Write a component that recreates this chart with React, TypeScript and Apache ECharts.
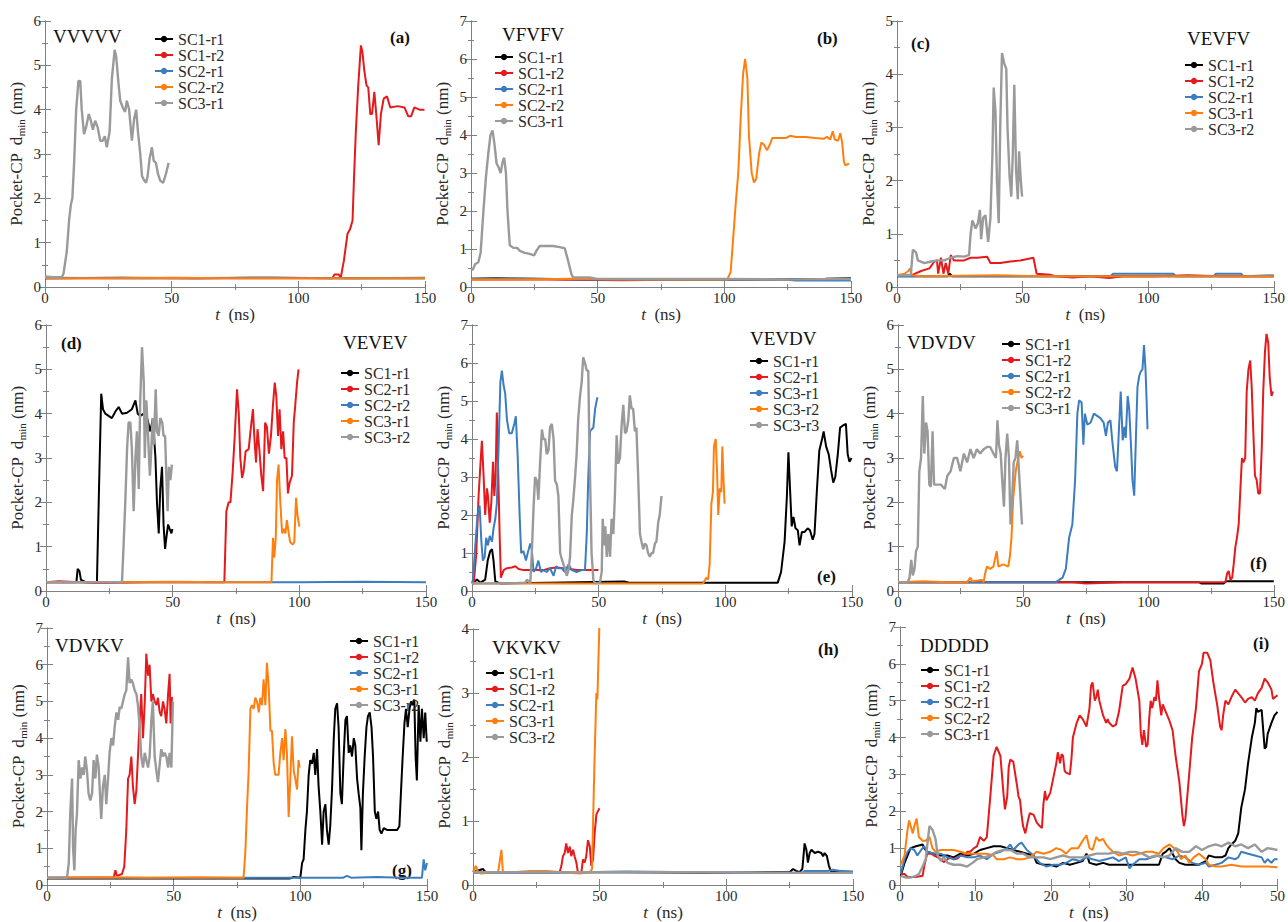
import React, { useEffect, useRef } from "react";
import * as echarts from "echarts";

type P = [number, number][];

// ---------- (a) VVVVV ----------
const a_SC1_r1: P = [[0,0.2],[30,0.21],[60,0.2],[90,0.21],[120,0.2],[150,0.2]];
const a_SC1_r2: P = [[0,0.2],[50,0.2],[100,0.2],[113.5,0.2],[114.2,0.28],[116,0.28],[116.7,0.2],[118,0.6],[119.4,1.2],[120.4,1.3],[121.4,1.5],[122,2.5],[122.7,3.5],[123.6,4.5],[124.7,5.45],[125.3,5.3],[126,4.9],[126.9,4.55],[127.6,4.5],[128.4,3.9],[129.1,3.9],[130,4.4],[130.9,3.8],[131.7,3.2],[132.6,3.9],[133.7,4.25],[135,4.3],[136.3,4.05],[139.2,4.08],[141.9,4.05],[143.4,3.85],[144.5,3.85],[145.8,4.05],[147.8,4.0],[149.8,4.0]];
const a_SC2_r1: P = [[0,0.21],[40,0.2],[80,0.21],[120,0.2],[150,0.21]];
const a_SC2_r2: P = [[0,0.2],[25,0.2],[50,0.21],[75,0.2],[100,0.2],[125,0.2],[150,0.2]];
const a_SC3_r1: P = [[0,0.24],[3,0.22],[6.6,0.22],[7.3,0.3],[8.6,0.8],[9.5,1.5],[10.2,1.85],[10.8,2.0],[11.5,2.8],[12.3,4.0],[13.2,4.65],[13.9,4.65],[14.5,4.0],[15.4,3.45],[16.2,3.6],[17.3,3.9],[18.1,3.75],[18.9,3.55],[19.8,3.75],[20.8,3.6],[21.8,3.3],[22.8,3.3],[23.6,3.4],[24.4,3.15],[25.5,3.5],[26.4,4.7],[27.5,5.35],[28.1,5.2],[29.0,4.6],[29.7,4.2],[30.7,4.05],[31.6,3.95],[32.3,4.2],[33.2,4.0],[34.3,3.3],[35.2,3.8],[36.0,4.0],[36.7,3.5],[37.6,3.0],[38.3,2.5],[39.2,2.4],[39.9,2.35],[40.5,2.5],[41.3,2.9],[42.2,3.15],[42.9,2.85],[43.8,2.8],[44.6,2.55],[45.5,2.4],[46.6,2.35],[47.5,2.5],[48.8,2.8]];

// ---------- (b) VFVFV ----------
const b_SC1_r1: P = [[0,0.22],[10,0.23],[25,0.22],[50,0.2],[80,0.2],[110,0.2],[140,0.22],[150,0.23]];
const b_SC1_r2: P = [[0,0.2],[30,0.2],[60,0.18],[90,0.2],[120,0.2],[150,0.2]];
const b_SC2_r1: P = [[0,0.22],[20,0.22],[50,0.2],[100,0.2],[125,0.2],[128,0.17],[150,0.17]];
const b_SC2_r2: P = [[0,0.2],[20,0.2],[40,0.22],[60,0.2],[80,0.2],[101.2,0.2],[102.5,0.4],[103.4,1.2],[104.5,2.2],[105.5,3.0],[106.5,4.5],[107.4,5.6],[108.2,6.0],[109.1,5.5],[109.7,4.0],[110.8,3.0],[111.7,2.75],[112.6,2.85],[113.7,3.5],[114.6,3.8],[115.6,3.75],[116.9,3.6],[118.3,3.8],[118.9,3.92],[121.5,3.92],[124.2,3.92],[126.1,3.98],[128.1,3.95],[132,3.95],[135.9,3.92],[139.2,3.9],[140.5,3.95],[141.8,3.88],[142.8,4.1],[143.6,3.88],[144.9,3.85],[145.8,4.05],[146.5,3.8],[147.2,3.3],[147.8,3.2],[149.2,3.25]];
const b_SC3_r1: P = [[0,0.47],[0.7,0.45],[1.6,0.6],[2.9,0.65],[3.8,0.9],[4.9,2.0],[5.9,2.9],[6.8,3.5],[7.7,4.0],[8.5,4.12],[9.2,3.8],[10.1,3.25],[10.9,3.15],[11.7,3.0],[12.5,3.3],[13.1,3.4],[13.8,3.0],[14.4,2.0],[15.3,1.1],[16.7,1.03],[18.2,1.03],[19.3,0.95],[21.2,0.9],[23.2,0.87],[24.9,0.83],[25.8,0.95],[27.1,1.08],[29.8,1.08],[32.4,1.08],[35,1.05],[37,1.02],[38.3,0.7],[39.6,0.35],[40.3,0.25],[42.9,0.25],[46.8,0.25],[49.4,0.22],[70,0.21],[100,0.21],[125,0.2],[150,0.21]];

// ---------- (c) VEVFV ----------
const c_SC1_r1: P = [[0,0.2],[20,0.2],[21,0.25],[22,0.2],[50,0.2],[100,0.2],[150,0.2]];
const c_SC1_r2: P = [[0,0.22],[5.7,0.22],[9.6,0.3],[12.9,0.35],[14.9,0.48],[15.9,0.5],[16.4,0.25],[17.5,0.55],[18.5,0.25],[19.4,0.45],[20.4,0.25],[21.4,0.6],[22.7,0.5],[24.1,0.5],[26.7,0.5],[29.3,0.55],[31.9,0.55],[35.9,0.57],[37.2,0.45],[41.1,0.45],[45.1,0.48],[49.1,0.5],[54.3,0.55],[55.6,0.25],[60.9,0.23],[63.5,0.2],[70,0.18],[76.6,0.2],[84.5,0.17],[89.8,0.2],[103,0.2],[116,0.22],[129,0.2],[150,0.2]];
const c_SC2_r1: P = [[0,0.2],[50,0.2],[85,0.2],[86,0.25],[110,0.25],[111,0.2],[126,0.2],[127,0.25],[137,0.25],[138,0.2],[150,0.22]];
const c_SC3_r1: P = [[0,0.22],[3,0.25],[4.5,0.3],[5.2,0.35],[5.8,0.22],[10,0.2],[40,0.22],[60,0.2],[100,0.2],[150,0.2]];
const c_SC3_r2: P = [[0,0.22],[5.5,0.22],[6.3,0.7],[7.6,0.65],[8.3,0.5],[10.9,0.45],[13.5,0.48],[16.2,0.5],[18.8,0.5],[21.4,0.55],[24,0.58],[26.7,0.57],[28.7,0.6],[29.3,1.0],[30,1.25],[31.3,1.1],[32.2,1.2],[33,1.45],[33.5,0.9],[34.3,1.3],[35.2,1.35],[36.3,0.85],[37.2,1.3],[38,2.5],[38.5,3.75],[39.2,3.3],[39.8,2.0],[40.5,1.2],[41.1,3.0],[41.8,4.4],[42.7,4.2],[43.5,4.1],[44,3.0],[44.8,2.1],[45.5,1.7],[46.1,2.5],[46.7,3.8],[47.4,2.2],[48.1,1.65],[48.6,2.55],[49.3,2.0],[49.8,1.7]];

// ---------- (d) VEVEV ----------
const d_SC1_r1: P = [[0,0.2],[12,0.2],[12.5,0.5],[13.2,0.45],[13.8,0.25],[15.8,0.2],[20.1,0.2],[21,2.5],[21.8,4.45],[22.5,4.1],[23.4,4.0],[24.7,3.95],[26,3.9],[27.4,4.05],[28.7,4.15],[30,4.0],[32,4.02],[33.9,4.1],[35.3,4.3],[36.2,4.0],[37.2,3.95],[38.6,4.0],[39.9,3.9],[41.2,3.6],[42.2,3.9],[43.2,3.0],[43.8,2.0],[44.5,1.3],[45.1,2.3],[45.8,2.8],[46.4,1.5],[47,0.95],[47.5,1.2],[48.2,1.5],[48.8,1.4],[49.5,1.3],[49.9,1.4]];
const d_SC2_r1: P = [[0,0.2],[5,0.22],[20,0.18],[40,0.2],[70.4,0.2],[71.2,1.8],[72.1,2.0],[72.8,2.0],[73.7,2.7],[74.5,3.5],[75.4,4.55],[76.1,4.0],[76.7,3.0],[77.4,2.55],[78,2.7],[78.8,3.15],[80,3.2],[80.9,3.7],[81.7,4.1],[82.2,3.5],[82.9,2.9],[83.5,3.65],[84.2,3.2],[85,2.6],[85.7,2.25],[86.5,3.8],[87.2,3.7],[88,3.1],[88.8,3.5],[89.6,4.2],[90.3,4.7],[90.9,4.4],[91.6,3.5],[92.2,4.1],[92.9,3.2],[93.6,3.6],[94.2,3.0],[94.9,3.0],[95.5,2.2],[96.2,2.45],[97.1,2.6],[97.8,3.8],[98.4,4.2],[99.1,4.7],[99.7,5.0]];
const d_SC2_r2: P = [[0,0.2],[50,0.2],[100,0.2],[125,0.21],[150,0.2]];
const d_SC3_r1: P = [[0,0.2],[30,0.2],[50,0.21],[70,0.2],[89,0.2],[89.6,1.2],[90.1,0.75],[90.7,1.2],[91.2,2.5],[91.8,2.85],[92.5,2.0],[93.2,1.3],[93.8,1.4],[94.5,1.3],[95.1,1.6],[95.8,1.3],[96.4,1.1],[97.4,1.05],[98,1.1],[98.7,2.1],[99.3,1.7],[100,1.45]];
const d_SC3_r2: P = [[0,0.2],[15,0.2],[30,0.2],[30.6,1.0],[31.3,2.0],[32,3.2],[32.6,3.8],[33.3,3.8],[33.9,3.2],[34.6,1.8],[35.3,3.0],[35.9,3.6],[36.6,2.3],[37.2,4.3],[37.9,5.5],[38.6,4.7],[39,3.0],[39.6,4.3],[40.3,3.5],[41,2.6],[41.4,3.0],[42.1,3.9],[42.6,3.3],[43.3,4.55],[43.8,3.6],[44.5,3.5],[45.1,3.9],[45.9,3.8],[46.4,3.5],[47,3.5],[47.5,2.6],[48,1.8],[48.5,2.8],[49.1,2.5],[49.7,2.85]];

// ---------- (e) VEVDV ----------
const e_SC1_r1: P = [[0,0.2],[2,0.3],[3.3,0.22],[5.2,0.3],[6.2,0.8],[7.2,1.05],[7.9,1.1],[8.5,0.8],[9.2,0.25],[11.2,0.2],[30,0.22],[60,0.25],[62,0.22],[90,0.22],[120.7,0.22],[122,0.5],[123.4,1.3],[124.3,2.5],[124.9,3.65],[125.6,2.6],[126.2,1.7],[126.9,1.95],[127.7,1.65],[128.6,1.6],[129.3,1.2],[130.2,1.55],[131.2,1.55],[132.5,1.65],[133.4,1.6],[134.5,1.35],[135.2,1.5],[136.1,2.6],[137.1,3.7],[138.2,4.0],[138.8,4.2],[139.8,3.8],[140.8,3.6],[141.7,3.2],[142.6,2.85],[143.4,3.0],[144.4,3.6],[145.3,4.3],[146.3,4.35],[147.6,4.4],[148.3,3.6],[149,3.4],[149.8,3.5]];
const e_SC2_r1: P = [[0,0.2],[0.7,0.2],[1.7,1.0],[2.6,2.5],[3.3,3.3],[3.9,3.95],[4.6,3.0],[5.2,2.0],[5.9,2.7],[6.3,2.5],[7,1.8],[7.6,2.3],[8.3,3.4],[8.8,2.5],[9.3,3.0],[9.8,4.7],[10.4,3.0],[10.9,1.5],[11.4,0.35],[12.5,0.55],[13.8,0.6],[15.7,0.62],[17.1,0.65],[18.4,0.58],[20.3,0.55],[23,0.55],[25.6,0.55],[28.2,0.55],[30.8,0.6],[33.5,0.62],[36.1,0.6],[38.7,0.58],[41.3,0.55],[44,0.55],[46.6,0.55],[49.9,0.55]];
const e_SC3_r1: P = [[0,0.2],[0.4,0.3],[1.3,1.2],[2.2,2.0],[3,2.25],[3.7,1.3],[4.3,0.8],[5,0.9],[5.6,1.4],[6.3,1.2],[7,1.45],[7.9,1.3],[8.5,1.65],[9.2,1.9],[9.8,2.3],[10.5,3.8],[11.2,5.5],[11.8,5.8],[12.5,5.4],[13.1,5.2],[13.8,4.5],[14.7,4.15],[15.7,4.15],[16.7,4.4],[17.3,4.6],[18,3.6],[18.8,2.0],[19.4,1.0],[20.3,1.05],[21.3,0.8],[22,1.0],[23,1.25],[23.6,1.1],[24.3,0.5],[25.3,0.6],[26.2,0.8],[27.2,0.5],[28.2,0.55],[29.5,0.5],[30.8,0.6],[32.2,0.4],[33.2,0.65],[34.1,0.6],[35.4,0.6],[36.7,0.5],[38.1,0.7],[39.4,0.55],[41.3,0.5],[43.3,0.55],[44.6,0.55],[45.3,1.5],[45.9,3.0],[46.6,4.2],[47.2,4.25],[47.9,4.3],[48.6,4.8],[49.5,5.1]];
const e_SC3_r2: P = [[0,0.2],[20,0.2],[40,0.2],[60,0.2],[80,0.2],[91.2,0.2],[92.5,0.35],[93.2,0.3],[93.8,0.7],[94.5,2.3],[95.1,2.6],[95.5,3.8],[96.2,4.0],[96.7,3.2],[97.2,2.0],[97.8,2.7],[98.4,2.6],[98.8,3.8],[99.3,2.9],[99.7,2.3]];
const e_SC3_r3: P = [[0,0.2],[15,0.2],[21,0.22],[21.7,0.3],[23,0.2],[23.6,1.0],[24.3,2.2],[24.9,3.0],[25.6,2.9],[26.2,2.4],[26.9,3.4],[27.6,4.25],[28.2,4.0],[28.9,4.0],[29.5,3.6],[30.2,3.7],[30.8,4.3],[31.5,4.4],[32.2,4.0],[32.8,2.9],[33.5,2.8],[34.1,2.5],[34.8,1.0],[35.4,0.85],[36.1,0.7],[36.7,0.6],[37.4,0.4],[38.1,0.55],[38.7,0.9],[39.4,2.0],[40,2.4],[40.7,3.0],[41.3,3.6],[41.9,4.5],[42.6,5.1],[43.3,5.5],[43.9,6.15],[44.6,6.0],[45.3,5.8],[45.9,5.8],[46.3,4.0],[46.9,2.0],[47.2,1.0],[47.9,0.3],[48.6,0.2],[50.5,0.22],[51.2,0.5],[51.6,1.9],[52.1,1.2],[52.6,1.7],[53.2,0.9],[53.8,1.5],[54.5,0.9],[55.1,1.9],[55.8,1.5],[56.4,2.5],[57.1,4.1],[57.7,3.35],[58.4,3.5],[59,4.3],[59.7,4.9],[60.4,4.15],[61,4.2],[61.7,4.5],[62.3,5.15],[63,4.8],[63.6,4.8],[64.3,4.2],[64.9,4.3],[65.6,3.0],[66.3,1.5],[66.9,1.3],[67.6,1.1],[68.2,1.25],[68.9,1.2],[69.5,1.0],[70.2,0.9],[70.9,1.0],[71.5,1.0],[72.2,1.25],[72.8,1.3],[73.5,1.8],[74.1,2.0],[74.8,2.5]];

// ---------- (f) VDVDV ----------
const f_SC1_r1: P = [[0,0.2],[30,0.2],[60,0.2],[90,0.2],[120,0.2],[121,0.17],[130,0.17],[131,0.22],[140,0.22],[150,0.22]];
const f_SC1_r2: P = [[0,0.2],[30,0.2],[60,0.2],[70,0.2],[75,0.17],[90,0.2],[110,0.2],[130.7,0.2],[131.4,0.4],[132,0.45],[132.7,0.25],[133.4,0.3],[134,0.6],[134.7,1.0],[135.3,1.2],[136,1.5],[136.6,2.2],[137.3,3.0],[137.9,2.9],[138.6,3.0],[139.2,4.5],[139.9,5.0],[140.6,5.2],[141.2,4.6],[141.9,3.5],[142.5,2.6],[143.2,2.5],[143.8,2.2],[144.5,2.2],[145.2,3.2],[145.8,4.5],[146.5,5.4],[147.1,5.8],[147.8,5.6],[148.4,4.8],[149.1,4.4],[149.7,4.5]];
const f_SC2_r1: P = [[0,0.2],[20,0.2],[40,0.2],[63,0.2],[64.4,0.25],[65.7,0.3],[67,0.5],[68.3,1.2],[69.6,1.5],[70.7,2.5],[71.6,4.0],[72.3,4.3],[73.3,4.25],[74,3.3],[74.6,4.0],[75.6,3.75],[76.9,3.8],[78.2,4.0],[79.5,3.95],[80.8,3.9],[82.1,3.8],[83,3.5],[83.8,3.8],[84.8,3.85],[85.6,3.35],[86.7,2.8],[87.4,2.7],[88,3.4],[88.9,4.5],[89.7,3.4],[90.4,3.7],[90.9,3.45],[91.7,4.4],[92.3,4.1],[93,3.3],[93.6,2.5],[94.3,2.15],[95,3.5],[95.6,4.6],[96.3,4.85],[96.9,4.95],[97.6,5.0],[98.2,5.55],[98.8,5.0],[99.3,4.2],[99.6,3.65]];
const f_SC2_r2: P = [[0,0.2],[10,0.22],[20,0.2],[27.6,0.2],[28.9,0.3],[29.6,0.22],[33.5,0.25],[34.2,0.2],[34.8,0.4],[35.5,0.55],[36.8,0.5],[38.1,0.55],[39.4,0.9],[40.1,0.55],[42,0.6],[44,0.55],[44.7,0.8],[45.3,1.2],[46,2.1],[47,2.7],[48,3.0],[48.6,3.15],[49.3,3.0],[49.9,3.05]];
const f_SC3_r1: P = [[0,0.2],[3.9,0.2],[4.6,0.3],[5.3,0.7],[5.9,0.35],[6.6,0.5],[7.2,0.9],[7.9,1.0],[8.5,2.7],[9.2,3.0],[9.9,4.4],[10.5,3.1],[11.2,3.8],[11.8,3.6],[12.5,2.4],[13.1,2.35],[13.8,3.6],[14.4,2.4],[15.8,2.4],[17.1,2.4],[18.7,2.3],[19.7,2.6],[21,2.7],[22.3,3.0],[23.6,3.0],[24.9,2.7],[26.3,3.1],[27.6,2.9],[28.9,3.2],[30.2,3.0],[31.5,3.2],[32.8,3.1],[34.2,3.2],[35.5,3.25],[36.8,3.25],[38.1,3.1],[39.1,3.0],[39.7,3.85],[40.3,3.3],[41,3.1],[41.6,2.5],[42.3,1.9],[42.9,3.0],[43.6,3.55],[44.3,3.0],[44.9,1.5],[45.6,2.1],[46.2,2.9],[46.9,3.0],[47.6,3.4],[48.2,2.8],[48.9,2.1],[49.5,1.5]];

// ---------- (g) VDVKV ----------
const g_SC1_r1: P = [[0,0.18],[30,0.18],[60,0.18],[96,0.18],[97.4,0.22],[100,0.2],[100.7,0.6],[101.3,0.7],[102,1.5],[102.6,2.0],[103.3,3.0],[103.9,3.4],[104.6,3.3],[105.3,3.6],[105.9,3.0],[106.6,3.7],[107.2,2.7],[107.9,2.0],[108.6,1.1],[109.2,2.0],[109.9,2.2],[110.5,1.5],[111.2,1.1],[111.8,1.6],[112.5,2.6],[113.2,4.0],[113.8,4.8],[114.5,4.95],[115.1,4.3],[115.8,2.5],[116.4,2.2],[117.1,3.5],[117.8,4.5],[118.4,4.6],[119.1,3.6],[119.7,3.8],[120.4,3.5],[121.1,4.0],[121.7,3.8],[122.4,2.9],[123,2.5],[123.7,2.1],[124.1,0.95],[124.7,2.5],[125.4,3.5],[126.1,4.3],[126.7,4.6],[127.4,4.7],[128.1,4.3],[128.7,3.5],[129.4,2.0],[130,1.8],[130.7,2.0],[131.3,1.5],[132,1.4],[132.9,1.55],[134.2,1.5],[136.2,1.5],[138.2,1.5],[139.1,1.6],[139.7,2.5],[140.4,3.5],[141.1,4.4],[141.7,4.8],[142.4,4.3],[143.1,4.8],[143.7,5.0],[144.3,4.9],[145,5.05],[145.5,3.5],[146,2.85],[146.7,4.9],[147.4,3.9],[148,4.8],[148.7,4.0],[149.3,4.7],[149.9,3.9]];
const g_SC1_r2: P = [[0,0.2],[10,0.2],[26.3,0.2],[27,0.4],[27.6,0.25],[29.6,0.3],[30.5,0.5],[31.3,1.5],[32,2.9],[32.6,3.0],[33.3,3.5],[33.9,2.7],[34.6,2.2],[35.3,2.6],[35.9,3.5],[36.6,4.5],[37.2,5.2],[37.9,4.0],[38.6,5.0],[39.2,6.3],[39.9,5.7],[40.5,6.0],[41.2,5.0],[41.8,5.2],[42.5,5.0],[43.2,4.9],[43.8,5.1],[44.5,4.7],[45.1,4.6],[45.8,5.0],[46.4,4.8],[47.1,4.4],[47.8,5.2],[48.4,5.75],[48.8,4.4],[49.3,5.1],[49.7,5.1]];
const g_SC2_r1: P = [[0,0.2],[30,0.2],[60,0.19],[90,0.2],[110,0.2],[117,0.2],[118.4,0.25],[120,0.2],[130,0.22],[140,0.2],[148,0.2],[148.7,0.7],[149.3,0.4],[150,0.6]];
const g_SC3_r1: P = [[0,0.2],[20,0.21],[40,0.2],[60,0.21],[77.6,0.2],[78.3,0.9],[78.9,2.0],[79.6,3.1],[80.3,4.8],[80.9,4.9],[81.6,4.8],[82.2,5.1],[82.9,5.0],[83.6,4.7],[84.2,5.1],[84.9,4.9],[85.5,5.6],[86.2,4.9],[86.8,6.05],[87.5,5.4],[88.2,4.2],[88.8,4.2],[89.5,3.3],[90.1,3.0],[90.8,3.0],[91.4,3.0],[92.1,3.6],[92.8,4.0],[93.4,3.4],[94.1,4.25],[94.7,3.6],[95.4,1.85],[96.1,3.0],[96.7,4.05],[97.4,3.1],[98,2.9],[98.7,2.6],[99.3,3.4],[99.7,3.2]];
const g_SC3_r2: P = [[0,0.2],[7.9,0.2],[8.6,0.6],[9.2,2.0],[9.9,2.9],[10.3,1.0],[10.8,0.4],[11.3,1.5],[11.8,1.9],[12.5,3.4],[13.2,2.9],[13.8,3.2],[14.5,3.0],[15.1,3.5],[15.8,3.1],[16.4,2.5],[17.1,2.3],[17.8,2.5],[18.4,3.4],[19.1,2.9],[19.7,3.55],[20.4,3.2],[21.1,2.2],[21.4,1.8],[22.1,2.7],[22.8,3.0],[23.4,2.2],[24.1,2.9],[24.7,3.6],[25.4,4.0],[26.1,3.8],[26.7,4.3],[27.4,4.7],[28.1,4.5],[28.7,4.85],[29.3,4.8],[30,5.0],[30.7,5.2],[31.3,5.3],[32,6.2],[32.6,5.5],[33.3,5.6],[33.9,5.5],[34.6,5.3],[35.3,5.2],[35.9,4.9],[36.6,4.3],[37.2,3.5],[37.9,3.2],[38.6,3.6],[39.2,3.4],[39.9,3.2],[40.5,3.5],[41.2,4.5],[41.8,5.0],[42.5,3.5],[43.2,3.1],[43.8,2.8],[44.5,3.3],[45.1,3.7],[45.8,3.5],[46.4,3.6],[47.1,3.5],[47.8,3.2],[48.4,3.6],[49.1,3.2],[49.7,5.0]];

// ---------- (h) VKVKV ----------
const h_SC1_r1: P = [[0,0.2],[3.9,0.25],[5,0.2],[30,0.2],[60,0.2],[90,0.19],[115,0.2],[125,0.2],[126.3,0.25],[127.6,0.22],[128.9,0.2],[130,0.25],[130.9,0.65],[131.6,0.55],[132.2,0.35],[132.9,0.5],[133.6,0.55],[134.9,0.5],[136.2,0.52],[137.5,0.5],[138.2,0.45],[138.8,0.5],[139.7,0.45],[140.5,0.3],[141.4,0.2],[143.4,0.22],[150,0.2]];
const h_SC1_r2: P = [[0,0.2],[10,0.2],[20,0.2],[34.2,0.2],[34.9,0.3],[35.5,0.45],[36.2,0.5],[36.8,0.65],[37.5,0.5],[38.2,0.6],[38.8,0.45],[39.5,0.55],[40.1,0.45],[40.8,0.35],[41.4,0.2],[42.8,0.2],[43.4,0.4],[44.1,0.35],[44.7,0.45],[45.4,0.7],[46.1,0.6],[46.7,0.3],[47.4,0.4],[48,0.8],[48.7,1.1],[49.3,1.15],[49.9,1.2]];
const h_SC2_r1: P = [[0,0.19],[30,0.19],[60,0.21],[90,0.2],[120,0.19],[130,0.19],[131,0.22],[140,0.22],[142,0.24],[145,0.22],[150,0.21]];
const h_SC3_r1: P = [[0,0.2],[1.1,0.3],[2,0.2],[3.3,0.18],[6.6,0.2],[9.9,0.2],[10.5,0.35],[11.2,0.55],[11.8,0.2],[15.8,0.2],[22.4,0.22],[29,0.22],[35.5,0.2],[42.1,0.18],[46.1,0.2],[47,0.25],[47.4,1.0],[48,2.0],[48.7,3.0],[49.1,2.9],[49.5,3.5],[50,4.2]];
const h_SC3_r2: P = [[0,0.2],[20,0.2],[40,0.2],[60,0.2],[80,0.2],[100,0.2],[120,0.19],[150,0.19]];

// ---------- (i) DDDDD ----------
const i_SC1_r1: P = [[0.1,0.25],[0.6,0.6],[1,0.8],[1.4,1.0],[2.1,1.05],[3,1.1],[3.2,1.0],[3.6,0.9],[4.5,0.85],[5.4,0.8],[6.3,0.8],[7.1,0.75],[8,0.85],[8.9,0.8],[9.8,0.85],[10.6,0.95],[11.5,1.0],[12.4,1.05],[13.3,1.05],[14.2,1.0],[15,0.95],[15.9,0.9],[16.8,0.85],[17.7,0.8],[18.1,0.6],[19,0.55],[19.9,0.55],[20.7,0.5],[21.6,0.6],[22.5,0.55],[23.4,0.6],[24.2,0.65],[24.7,0.85],[25.1,0.6],[26,0.55],[26.9,0.6],[27.7,0.55],[28.6,0.55],[29.5,0.55],[30.4,0.55],[31.2,0.55],[32.1,0.55],[33,0.55],[33.9,0.55],[34.3,0.55],[34.8,0.85],[35.2,0.9],[35.7,1.0],[36.1,0.85],[36.5,0.7],[37,0.6],[37.8,0.55],[38.7,0.55],[39.6,0.55],[40.5,0.65],[40.9,0.8],[41.8,0.75],[42.6,0.75],[43.1,0.8],[43.5,1.0],[43.9,1.1],[44.4,1.2],[44.8,1.4],[45.2,2.1],[45.7,2.6],[46.1,3.3],[46.6,4.0],[47,4.4],[47.2,4.8],[47.4,4.7],[47.9,4.75],[48.3,3.7],[48.5,3.75],[48.7,4.1],[49.2,4.4],[49.6,4.6],[50,4.7]];
const i_SC1_r2: P = [[0.1,0.3],[0.6,0.3],[1,0.22],[1.4,0.22],[2.1,0.22],[3,0.25],[3.2,0.5],[3.6,0.85],[4.1,0.85],[4.5,0.8],[5,0.75],[5.4,0.7],[5.8,0.62],[6.3,0.7],[6.7,0.75],[7.1,0.7],[7.6,0.72],[8,0.8],[8.5,0.8],[8.9,0.9],[9.3,0.9],[9.8,1.0],[10.2,1.05],[10.6,1.3],[11.1,1.2],[11.5,1.3],[12,2.5],[12.4,3.5],[12.8,3.75],[13.3,3.5],[13.7,2.5],[13.9,2.05],[14.2,2.4],[14.4,3.2],[14.6,3.4],[15,3.35],[15.5,2.7],[15.7,2.4],[15.9,2.3],[16.1,1.9],[16.3,1.6],[16.6,1.4],[16.8,1.6],[17,1.8],[17.2,1.95],[17.7,1.9],[18.1,1.7],[18.5,1.6],[18.8,1.55],[19,2.2],[19.2,2.55],[19.4,2.3],[19.9,2.5],[20.3,2.9],[20.7,3.3],[20.9,3.6],[21.2,3.3],[21.4,3.55],[21.6,3.5],[21.8,3.1],[22,3.05],[22.5,3.0],[22.7,3.4],[22.9,4.0],[23.4,4.4],[23.8,4.6],[24.2,4.5],[24.7,4.3],[25.1,4.8],[25.3,5.4],[25.5,5.5],[25.8,5.0],[26,5.1],[26.2,5.3],[26.4,5.0],[26.9,4.6],[27.3,4.4],[27.5,4.5],[27.7,4.4],[28.2,4.3],[28.6,4.35],[29,4.7],[29.5,5.4],[29.9,5.45],[30.4,5.6],[30.8,5.9],[31.2,5.6],[31.7,5.0],[31.9,4.1],[32.1,3.8],[32.3,4.2],[32.6,3.75],[32.8,3.8],[33,4.5],[33.2,5.0],[33.4,4.8],[33.7,5.1],[33.9,5.0],[34.1,5.55],[34.3,5.1],[34.6,4.6],[34.8,4.9],[35.2,4.7],[35.7,4.45],[36.1,4.2],[36.5,3.5],[37,2.8],[37.4,1.9],[37.6,1.6],[37.8,1.8],[38.3,3.0],[38.7,4.0],[39.2,4.8],[39.6,5.8],[40,6.0],[40.2,6.3],[40.7,6.3],[41.1,6.1],[41.5,5.5],[42,4.9],[42.4,4.3],[42.6,4.2],[42.8,4.6],[43.1,5.0],[43.5,4.9],[43.9,5.1],[44.4,5.3],[44.8,5.2],[45.2,5.1],[45.7,4.95],[46.1,5.05],[46.6,5.1],[47,5.0],[47.4,5.2],[47.9,5.35],[48.3,5.6],[48.7,5.5],[49.2,5.3],[49.4,5.05],[50,5.15]];
const i_SC2_r1: P = [[0.1,0.3],[0.6,0.7],[1,0.9],[1.4,1.0],[1.9,0.95],[2.3,0.8],[2.8,0.95],[3.2,1.05],[3.6,0.9],[4.5,0.85],[5.4,0.85],[6.3,0.75],[7.1,0.7],[8,0.8],[8.9,0.75],[9.8,0.75],[10.6,0.8],[11.5,0.7],[12.4,0.85],[13.3,0.9],[14.2,1.0],[14.6,1.1],[15,0.95],[15.7,1.1],[16.1,1.15],[16.8,0.95],[17.7,0.8],[18.5,0.6],[19.4,0.5],[20.3,0.55],[21.2,0.55],[22,0.6],[22.9,0.7],[23.8,0.65],[24.7,0.75],[25.5,0.7],[26.4,0.65],[27.3,0.7],[28.2,0.75],[29,0.65],[29.9,0.75],[30.4,0.45],[30.8,0.55],[31.7,0.7],[32.6,0.7],[33.4,0.75],[34.3,0.8],[35.2,0.75],[36.1,0.7],[37,0.8],[37.8,0.75],[38.7,0.6],[39.6,0.55],[40.5,0.6],[40.9,0.5],[41.8,0.55],[42.6,0.6],[43.5,0.75],[44.4,0.7],[44.8,0.75],[45.2,0.9],[46.1,0.85],[47,0.8],[47.9,0.75],[48.3,0.6],[48.7,0.7],[49.2,0.6],[49.6,0.7],[50,0.7]];
const i_SC2_r2: P = [[0.1,0.55],[0.6,0.8],[1,1.5],[1.2,1.75],[1.7,1.4],[1.9,1.6],[2.2,1.8],[2.5,1.3],[3,1.2],[3.4,1.2],[3.9,1.3],[4.3,1.0],[4.7,0.9],[5.4,0.95],[6.3,0.95],[7.1,0.95],[8,0.9],[8.9,0.85],[9.8,0.85],[10.6,0.85],[11.5,0.85],[12.4,0.8],[12.8,0.7],[13.7,0.7],[14.6,0.75],[15.5,0.7],[16.3,0.7],[17.2,0.75],[18.1,0.9],[19,0.85],[19.9,0.9],[20.7,1.0],[21.4,0.95],[22,0.85],[22.7,1.0],[23.6,1.0],[24.2,1.2],[24.7,1.35],[25.1,1.0],[25.5,0.95],[26,1.3],[26.4,1.2],[26.9,1.25],[27.3,1.1],[27.7,1.0],[28.2,0.9],[29,0.8],[29.9,0.85],[30.8,0.8],[31.7,0.85],[32.6,0.9],[33.4,0.9],[34.3,0.85],[34.9,1.0],[35.7,1.1],[36.3,1.0],[36.8,0.9],[37.2,0.7],[37.8,0.8],[38.3,0.6],[38.9,0.75],[39.6,0.85],[40.5,0.7],[40.9,0.55],[41.8,0.5],[42.6,0.5],[43.9,0.55],[45.2,0.5],[47,0.5],[48.7,0.5],[50,0.48]];
const i_SC3_r1: P = [[0.1,0.25],[0.8,0.2],[1.4,0.2],[2.1,0.25],[2.5,0.3],[3,0.5],[3.4,0.7],[3.9,1.6],[4.3,1.5],[4.7,1.25],[5,0.8],[5.4,0.65],[5.8,0.75],[6.3,0.6],[7.1,0.55],[8,0.55],[8.9,0.5],[9.6,0.6],[10.2,0.7],[11.1,0.75],[12,0.8],[12.8,0.9],[13.7,0.95],[14.6,0.95],[15.5,0.85],[16.3,0.85],[17.2,0.75],[18.1,0.75],[19,0.75],[19.9,0.7],[20.7,0.75],[21.6,0.8],[22.5,0.75],[23.4,0.75],[24.2,0.75],[25.1,0.8],[26,0.85],[26.9,0.85],[27.7,0.85],[28.6,0.9],[29.5,0.85],[30.4,0.9],[31.2,0.9],[32.1,0.85],[33,0.75],[33.9,0.8],[34.8,0.75],[35.7,0.8],[36.5,1.0],[37.4,0.9],[38.3,0.9],[39.2,1.05],[40,0.95],[40.9,1.05],[41.8,1.1],[42.6,1.05],[43.5,1.15],[44.4,1.05],[45.2,1.1],[46.1,1.0],[47,1.1],[47.9,0.9],[48.7,1.0],[50,0.95]];

// ---------- panel contents ----------
const seriesColors = ["#000000", "#e41a1c", "#3b7dbf", "#ff7f0e", "#9a9a9a"];
const panelTitles = ["VVVVV", "VFVFV", "VEVFV", "VEVEV", "VEVDV", "VDVDV", "VDVKV", "VKVKV", "DDDDD"];
const panelTags = ["(a)", "(b)", "(c)", "(d)", "(e)", "(f)", "(g)", "(h)", "(i)"];
const panelXMax = [150, 150, 150, 150, 150, 150, 150, 150, 50];
const panelYMax = [6, 7, 5, 6, 7, 6, 7, 4, 7];
const panelNames = [
  ["SC1-r1", "SC1-r2", "SC2-r1", "SC2-r2", "SC3-r1"],
  ["SC1-r1", "SC1-r2", "SC2-r1", "SC2-r2", "SC3-r1"],
  ["SC1-r1", "SC1-r2", "SC2-r1", "SC3-r1", "SC3-r2"],
  ["SC1-r1", "SC2-r1", "SC2-r2", "SC3-r1", "SC3-r2"],
  ["SC1-r1", "SC2-r1", "SC3-r1", "SC3-r2", "SC3-r3"],
  ["SC1-r1", "SC1-r2", "SC2-r1", "SC2-r2", "SC3-r1"],
  ["SC1-r1", "SC1-r2", "SC2-r1", "SC3-r1", "SC3-r2"],
  ["SC1-r1", "SC1-r2", "SC2-r1", "SC3-r1", "SC3-r2"],
  ["SC1-r1", "SC1-r2", "SC2-r1", "SC2-r2", "SC3-r1"],
];
const panelData: P[][] = [
  [a_SC1_r1, a_SC1_r2, a_SC2_r1, a_SC2_r2, a_SC3_r1],
  [b_SC1_r1, b_SC1_r2, b_SC2_r1, b_SC2_r2, b_SC3_r1],
  [c_SC1_r1, c_SC1_r2, c_SC2_r1, c_SC3_r1, c_SC3_r2],
  [d_SC1_r1, d_SC2_r1, d_SC2_r2, d_SC3_r1, d_SC3_r2],
  [e_SC1_r1, e_SC2_r1, e_SC3_r1, e_SC3_r2, e_SC3_r3],
  [f_SC1_r1, f_SC1_r2, f_SC2_r1, f_SC2_r2, f_SC3_r1],
  [g_SC1_r1, g_SC1_r2, g_SC2_r1, g_SC3_r1, g_SC3_r2],
  [h_SC1_r1, h_SC1_r2, h_SC2_r1, h_SC3_r1, h_SC3_r2],
  [i_SC1_r1, i_SC1_r2, i_SC2_r1, i_SC2_r2, i_SC3_r1],
];

// ---------- layout (pixels) ----------
const layout = [
  { left: 45, top: 21, title: [53, 36], tag: [390, 37], leg: [154, 31] },
  { left: 471, top: 21, title: [502, 34], tag: [817, 38], leg: [494, 49] },
  { left: 897, top: 21, title: [1187, 38], tag: [911, 43], leg: [1184, 57] },
  { left: 46, top: 325, title: [343, 342], tag: [61, 343], leg: [340, 365] },
  { left: 472, top: 325, title: [750, 338], tag: [817, 576], leg: [749, 353] },
  { left: 898, top: 325, title: [907, 342], tag: [1250, 563], leg: [1001, 336] },
  { left: 47, top: 628, title: [55, 645], tag: [392, 870], leg: [349, 633] },
  { left: 473, top: 629, title: [492, 647], tag: [818, 649], leg: [485, 665] },
  { left: 900, top: 627, title: [920, 645], tag: [1253, 643], leg: [920, 662] },
];
const GW = 380;
const GH = 266;

const SERIF = "Liberation Serif";
const FRAME = "#808080";
const TXT = "#2a2a2a";

function buildOption() {
  const grid: any[] = [];
  const xAxis: any[] = [];
  const yAxis: any[] = [];
  const series: any[] = [];
  const legend: any[] = [];
  const graphic: any[] = [];

  layout.forEach((L, i) => {
    grid.push({ left: L.left, top: L.top, width: GW, height: GH, show: false, containLabel: false });
    const xMax = panelXMax[i];
    const yMax = panelYMax[i];
    const xInt = xMax === 50 ? 10 : 50;
    const tickCommon = {
      axisLine: { show: true, lineStyle: { color: FRAME, width: 1 } },
      axisTick: { show: true, inside: true, length: 6, lineStyle: { color: FRAME } },
      minorTick: { show: true, splitNumber: 2, length: 3, lineStyle: { color: FRAME } },
      splitLine: { show: false },
      minorSplitLine: { show: false },
    };
    xAxis.push({
      type: "value", gridIndex: i, position: "bottom", min: 0, max: xMax, interval: xInt,
      ...tickCommon,
      axisLabel: { show: true, fontFamily: SERIF, fontSize: 15, color: TXT, margin: 3 },
      name: "{i|t}  (ns)", nameLocation: "middle", nameGap: 19,
      nameTextStyle: { fontFamily: SERIF, fontSize: 17, color: TXT, rich: { i: { fontFamily: SERIF, fontSize: 17, fontStyle: "italic", color: TXT } } },
    });
    xAxis.push({
      type: "value", gridIndex: i, position: "top", min: 0, max: xMax, interval: xInt,
      ...tickCommon, axisLabel: { show: false },
    });
    yAxis.push({
      type: "value", gridIndex: i, position: "left", min: 0, max: yMax, interval: 1,
      ...tickCommon,
      axisLabel: { show: true, fontFamily: SERIF, fontSize: 15, color: TXT, margin: 4 },
      name: "{a|Pocket-CP  d}{s|min}{a| (nm)}", nameLocation: "middle", nameGap: 19,
      nameTextStyle: {
        fontFamily: SERIF, fontSize: 17, color: TXT,
        rich: {
          a: { fontFamily: SERIF, fontSize: 17, color: TXT },
          s: { fontFamily: SERIF, fontSize: 11, color: TXT, padding: [9, 0, 0, 0] },
        },
      },
    });
    yAxis.push({
      type: "value", gridIndex: i, position: "right", min: 0, max: yMax, interval: 1,
      ...tickCommon, axisLabel: { show: false },
    });

    const names = panelNames[i];
    const keyNames: string[] = [];
    names.forEach((n, k) => {
      const key = `${"abcdefghi"[i]}:${n}`;
      keyNames.push(key);
      series.push({
        type: "line", name: key, xAxisIndex: 2 * i, yAxisIndex: 2 * i,
        data: panelData[i][k], showSymbol: false, symbol: "none",
        lineStyle: { color: seriesColors[k], width: k === 4 ? 2.4 : 2 }, itemStyle: { color: seriesColors[k] },
        color: seriesColors[k], clip: true, silent: true, z: 2 + k,
      });
    });
    legend.push({
      orient: "vertical", left: L.leg[0], top: L.leg[1], itemWidth: 18, itemHeight: 8, itemGap: 0,
      padding: 0, selectedMode: false, data: keyNames,
      formatter: (n: string) => n.split(":")[1],
      textStyle: { fontFamily: SERIF, fontSize: 16, color: TXT, lineHeight: 14 },
    });
    graphic.push({
      type: "text", x: L.title[0], y: L.title[1], silent: true,
      style: { text: panelTitles[i], fontFamily: SERIF, fontSize: 19, fill: "#111", align: "left", verticalAlign: "middle" },
    });
    graphic.push({
      type: "text", x: L.tag[0], y: L.tag[1], silent: true,
      style: { text: panelTags[i], fontFamily: SERIF, fontSize: 17, fontWeight: "bold", fill: "#111", align: "left", verticalAlign: "middle" },
    });
  });

  return {
    animation: false, backgroundColor: "#ffffff",
    textStyle: { fontFamily: SERIF },
    grid, xAxis, yAxis, series, legend, graphic,
  };
}

export default function App() {
  const ref = useRef<HTMLDivElement>(null);
  useEffect(() => {
    if (!ref.current) return;
    const chart = echarts.init(ref.current, undefined, { renderer: "svg" });
    chart.setOption(buildOption() as any);
    return () => chart.dispose();
  }, []);
  return <div ref={ref} style={{ position: "absolute", left: 0, top: 0, width: 1288, height: 922, background: "#fff" }} />;
}
